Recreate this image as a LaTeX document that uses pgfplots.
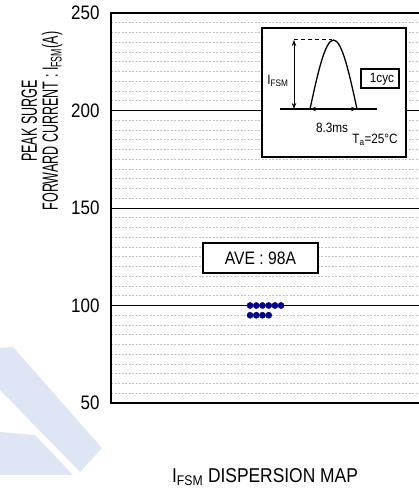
\documentclass[border=0pt]{standalone}
\usepackage{pgfplots}
\pgfplotsset{compat=1.18}
\usepackage{pgfplotstable}
\usepackage{fontspec}
\setmainfont{Liberation Sans}[FakeStretch=0.87]
\newfontfamily\labelfont{Liberation Sans}[FakeStretch=0.57]
\usetikzlibrary{arrows.meta}
\definecolor{dotblue}{RGB}{0,0,140}
\definecolor{wmark}{RGB}{222,229,244}
\definecolor{mgrid}{RGB}{195,195,195}
\pgfplotstableread{
x y
250.1 100
256.3 100
262.5 100
268.7 100
274.9 100
281.1 100
250.1 95
256.3 95
262.5 95
268.7 95
}\surgedata
\begin{document}
\begin{tikzpicture}
\begin{scope}[shift={(0pt,492pt)},x=1pt,y=-1pt]
\fill[wmark] (0,348)--(13,347)--(102,448)--(80,472)--(0,390)--cycle;
\fill[wmark] (0,432)--(35,435)--(73,475)--(0,475)--cycle;
\end{scope}
\begin{axis}[
  at={(111pt,89pt)}, anchor=south west,
  scale only axis, width=330pt, height=390pt,
  xmin=111, xmax=441, ymin=50, ymax=250,
  xtick=\empty,
  ytick={50,100,150,200,250},
  minor y tick num=9,
  ymajorgrids, yminorgrids,
  major grid style={black, line width=0.6pt},
  minor grid style={mgrid, dash pattern=on 2pt off 1.5pt, line width=0.5pt},
  axis line style={line width=2pt},
  major tick length=0pt, minor tick length=0pt,
  /pgf/number format/assume math mode=true,
  yticklabel style={font=\fontsize{19.5}{21}\selectfont, xshift=-8pt},
  clip=false,
]
\addplot[only marks, mark=*, mark size=3.1pt, color=dotblue] table[x=x,y=y] {\surgedata};
\end{axis}
\begin{scope}[shift={(0pt,492pt)},x=1pt,y=-1pt]
% inset
\draw[line width=1.5pt, fill=white] (262,28) rectangle (406,157);
\draw[line width=1.3pt] (280,109) -- (377,109);
\draw[line width=1.3pt] (310,109) sin (333.5,40) cos (357,109);
\draw[line width=1pt, dash pattern=on 4pt off 3pt] (294,40) -- (332,40);
\draw[line width=0.8pt, {Stealth[length=6pt,width=4.5pt]}-{Stealth[length=6pt,width=4.5pt]}] (294,40) -- (294,109);
\draw[line width=0.8pt, {Stealth[length=6pt,width=4.5pt]}-{Stealth[length=6pt,width=4.5pt]}] (310,109) -- (357,109);
\node[font=\fontsize{13.5}{15}\selectfont] at (278,81) {I\textsubscript{FSM}};
\node[font=\fontsize{13.5}{15}\selectfont] at (332,128) {8.3ms};
\draw[line width=1.5pt] (361,69) rectangle (399,88);
\node[font=\fontsize{13.5}{15}\selectfont] at (382,79) {1cyc};
\node[font=\fontsize{13.5}{15}\selectfont] at (375,140) {T\textsubscript{a}=25°C};
% average box
\draw[line width=1.5pt, fill=white] (203,243) rectangle (318,273);
\node[font=\fontsize{18}{20}\selectfont] at (260.5,258) {AVE : 98A};
% labels
\node[rotate=90, align=center, font=\labelfont\fontsize{22}{21}\selectfont] at (42,121) {PEAK SURGE\\FORWARD CURRENT : I\textsubscript{FSM}(A)};
\node[font=\fontsize{20}{22}\selectfont] at (265,477) {I\textsubscript{FSM} DISPERSION MAP};
\end{scope}
\pgfresetboundingbox
\path[use as bounding box] (0,0) rectangle (419pt,492pt);
\end{tikzpicture}
\end{document}
